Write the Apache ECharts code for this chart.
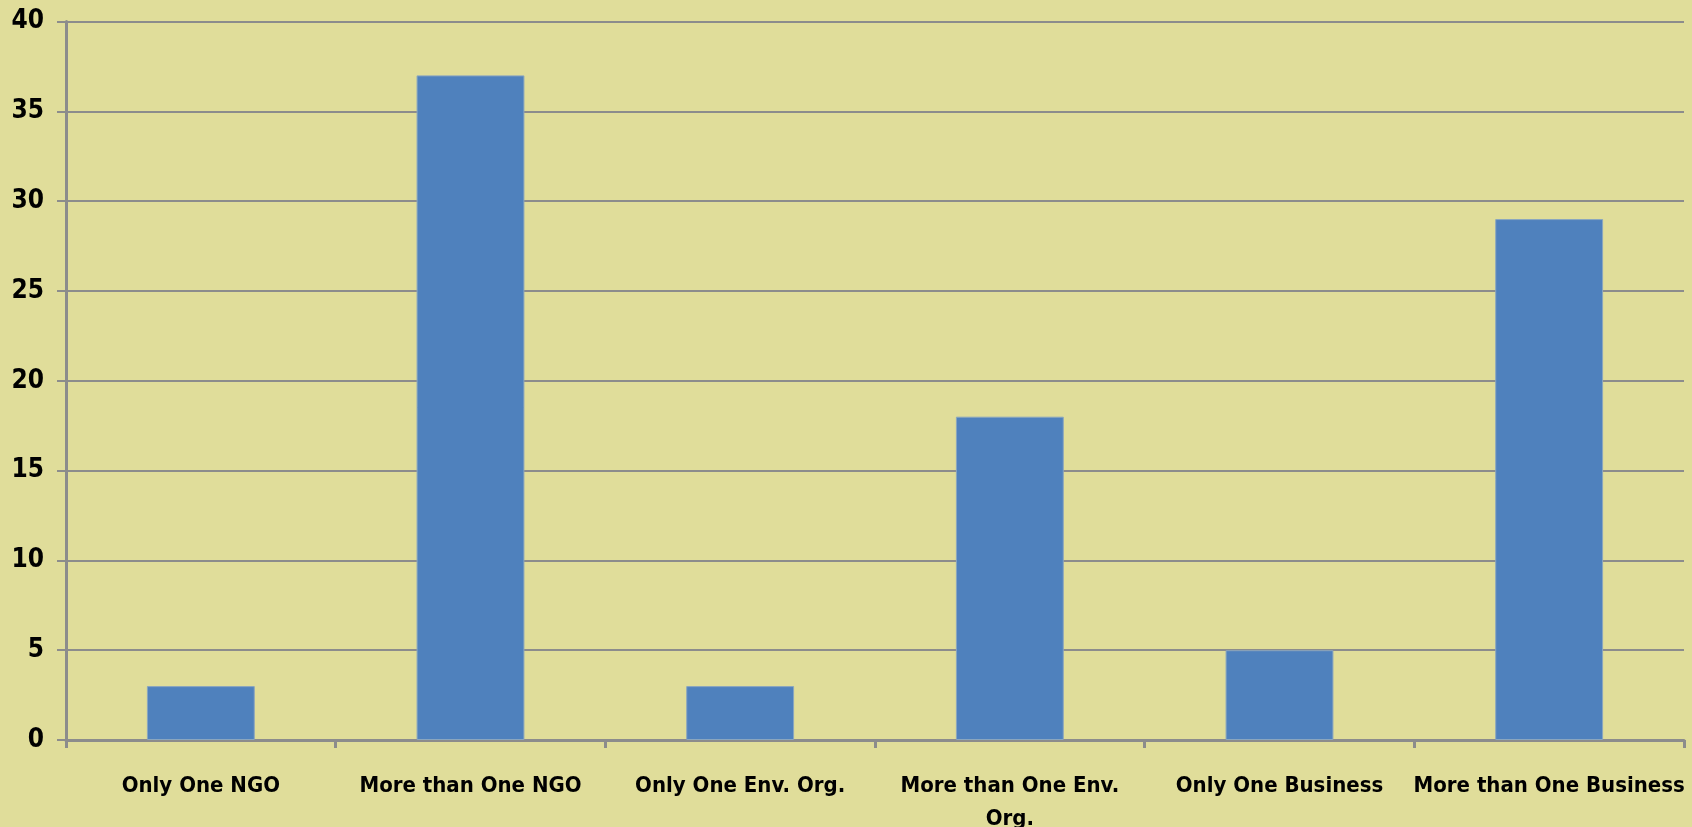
<!DOCTYPE html>
<html>
<head>
<meta charset="utf-8">
<script src="https://cdn.jsdelivr.net/npm/echarts@6/dist/echarts.min.js"></script>
<style>
  html, body { margin: 0; padding: 0; background: #e0dd9a; }
  #chart { width: 1692px; height: 827px; }
</style>
</head>
<body>
<div id="chart"></div>
<script>
// Categories along the x axis
const categories = [
  'Only One NGO',
  'More than One NGO',
  'Only One Env. Org.',
  'More than One Env. Org.',
  'Only One Business',
  'More than One Business'
];
// Text shown under each category (line-broken where needed)
const tickLabels = [
  'Only One NGO',
  'More than One NGO',
  'Only One Env. Org.',
  'More than One Env.\nOrg.',
  'Only One Business',
  'More than One Business'
];
// Counts per category
const counts = [3, 37, 3, 18, 5, 29];
// Value axis range
const yMin = 0;
const yMax = 40;
const yStep = 5;

const gray = '#8c8c8c';
const labelFont = '"DejaVu Sans Condensed", "Liberation Sans", sans-serif';

const chart = echarts.init(document.getElementById('chart'));
chart.setOption({
  backgroundColor: '#e0dd9a',
  animation: false,
  grid: {
    left: 66, right: 8, top: 21.5, bottom: 87,
    containLabel: false,
    outerBoundsMode: 'none'
  },
  xAxis: {
    type: 'category',
    data: categories,
    boundaryGap: true,
    axisLine: { show: true, lineStyle: { color: gray, width: 3 } },
    axisTick: { show: true, length: 8, lineStyle: { color: gray, width: 3 } },
    axisLabel: {
      margin: 30,
      color: '#000',
      fontWeight: 'bold',
      fontSize: 22,
      fontFamily: labelFont,
      lineHeight: 33,
      interval: 0,
      formatter: (value, index) => tickLabels[index]
    },
    splitLine: { show: false }
  },
  yAxis: {
    type: 'value',
    min: yMin,
    max: yMax,
    interval: yStep,
    axisLine: { show: true, lineStyle: { color: gray, width: 3 } },
    axisTick: { show: true, length: 9, lineStyle: { color: gray, width: 2 } },
    axisLabel: {
      margin: 22,
      color: '#000',
      fontWeight: 'bold',
      fontSize: 26,
      fontFamily: labelFont
    },
    splitLine: { show: true, lineStyle: { color: gray, width: 2 } }
  },
  series: [{
    type: 'bar',
    data: counts,
    barWidth: '40%',
    itemStyle: { color: '#4f81bd', borderColor: '#8aa6bf', borderWidth: 1 }
  }]
});
</script>
</body>
</html>
